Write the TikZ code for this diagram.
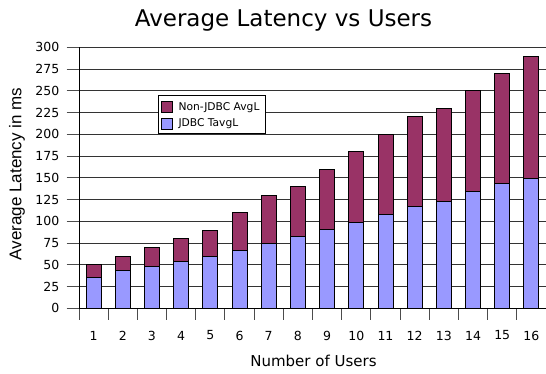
\documentclass[tikz,border=0pt]{standalone}
\usepackage{fontspec}
\setmainfont{DejaVu Sans}
\newfontfamily\arialfont{Liberation Sans}
\definecolor{barmaroon}{HTML}{993366}
\definecolor{barblue}{HTML}{9999FF}
\begin{document}
\begin{tikzpicture}[x=1pt,y=-1pt,
  gridline/.style={draw=black!80, line width=1pt},
  axisline/.style={draw=black, line width=1pt},
  tickline/.style={draw=black!70, line width=1pt},
  lowbar/.style={fill=barblue, draw=black, line width=0.9pt},
  highbar/.style={fill=barmaroon, draw=black, line width=0.9pt},
  ticklabel/.style={font=\fontsize{12.5}{14}\selectfont, inner sep=0pt},
  legendtext/.style={font=\fontsize{10.7}{12}\selectfont, anchor=west, inner sep=0pt}]
\useasboundingbox (0,0) rectangle (546,373);
\fill[white] (0,0) rectangle (546,373);
% gridlines
\foreach \v in {25,50,...,300}
  \draw[gridline] (79,{308.3-0.87*\v}) -- (546,{308.3-0.87*\v});
% bars
\foreach \k/\b/\t in {1/36/50,2/43/60,3/48/70,4/54/80,5/60/90,6/66/110,7/74/130,8/83/140,
  9/91/160,10/99/180,11/108/200,12/117/220,13/123/230,14/134/250,15/143/270,16/149/290}{
  \pgfmathsetmacro\xc{79+(\k-0.5)*29.1875}
  \draw[lowbar] ({\xc-7.5},308.3) rectangle ({\xc+7.5},{308.3-0.87*\b});
  \draw[highbar] ({\xc-7.5},{308.3-0.87*\b}) rectangle ({\xc+7.5},{308.3-0.87*\t});
  \node[ticklabel] (xl\k) at (\xc,335.5) {\k};
}
% y ticks and labels
\foreach \v in {0,25,...,300}{
  \draw[tickline] (66.5,{308.3-0.87*\v}) -- (79,{308.3-0.87*\v});
  \node[ticklabel, anchor=east] (yl\v) at (59.5,{308.3-0.87*\v}) {\v};
}
% x ticks
\foreach \k in {0,...,16}
  \draw[tickline] ({79+\k*29.1875},308.3) -- ({79+\k*29.1875},320);
% axes
\draw[axisline] (79,47.3) -- (79,308.3) -- (546,308.3);
% legend
\draw[fill=white, draw=black, line width=0.9pt] (158.3,95) rectangle (265,133.3);
\draw[highbar] (161.7,101.7) rectangle (172.7,112.7);
\draw[lowbar] (161.7,118.3) rectangle (172.7,129.3);
\node[legendtext] (lg1) at (178.3,107.2) {Non-JDBC AvgL};
\node[legendtext] (lg2) at (178.3,123.8) {JDBC TavgL};
% titles
\node[font=\fontsize{23}{26}\selectfont, anchor=base, inner sep=0pt] (title) at (283.5,26.7) {Average Latency vs Users};
\node[font=\fontsize{15}{17}\selectfont, anchor=base, inner sep=0pt] (xtitle) at (313.5,366.5) {Number of Users};
\node[font=\arialfont\fontsize{17}{19}\selectfont, rotate=90, inner sep=0pt] (ytitle) at (17,174) {Average Latency in ms};
\end{tikzpicture}
\end{document}
